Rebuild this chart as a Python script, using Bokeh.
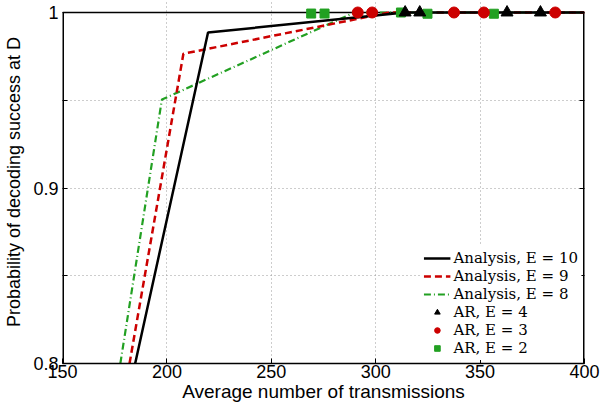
from bokeh.plotting import figure
from bokeh.models import Legend, LegendItem, FixedTicker, LinearAxis, Range1d
from bokeh.embed import file_html
from bokeh.resources import INLINE

# ---- data ----
x_ticks = [150, 200, 250, 300, 350, 400]
y_ticks = [0.8, 0.9, 1.0]
y_minor_ticks = [0.85, 0.95]
y_tick_labels = {0.8: "0.8", 0.9: "0.9", 1.0: "1"}

ana_e10_x = [184.8, 219.7, 314.0, 400.0]
ana_e10_y = [0.8, 0.9886, 1.0, 1.0]
ana_e9_x = [182.1, 207.9, 306.5, 400.0]
ana_e9_y = [0.8, 0.9765, 1.0, 1.0]
ana_e8_x = [177.7, 197.6, 289.8, 400.0]
ana_e8_y = [0.8, 0.9504, 1.0, 1.0]

ar_e4_x = [314.1, 321.1, 362.9, 378.9]
ar_e4_y = [1.0, 1.0, 1.0, 1.0]
ar_e3_x = [291.4, 298.3, 337.5, 351.8, 386.0]
ar_e3_y = [1.0, 1.0, 1.0, 1.0, 1.0]
ar_e2_x = [269.1, 275.5, 312.1, 324.8, 356.6]
ar_e2_y = [0.9994, 0.9994, 1.0, 0.9993, 0.9993]

labels = ["Analysis, E = 10", "Analysis, E = 9", "Analysis, E = 8",
          "AR, E = 4", "AR, E = 3", "AR, E = 2"]

X_MIN, X_MAX = 150, 400
Y_MIN, Y_MAX = 0.8, 1.0

RED = "#cc0000"
GREEN = "#22a022"

p = figure(width=603, height=406,
           x_range=Range1d(X_MIN, X_MAX), y_range=Range1d(Y_MIN, 1.00684),
           output_backend="svg", toolbar_location=None,
           min_border_left=62, min_border_right=19,
           min_border_top=0, min_border_bottom=43)
p.outline_line_color = None
p.background_fill_color = "white"
p.border_fill_color = "white"

# axes
p.xaxis.ticker = FixedTicker(ticks=x_ticks)
p.yaxis.ticker = FixedTicker(ticks=y_ticks, minor_ticks=y_minor_ticks)
p.yaxis.major_label_overrides = y_tick_labels
for ax in (p.xaxis[0], p.yaxis[0]):
    ax.major_tick_in = 5
    ax.major_tick_out = 0
    ax.minor_tick_in = 0
    ax.minor_tick_out = 0
    ax.major_tick_line_color = "black"
    ax.major_label_text_font = "Liberation Sans"
    ax.major_label_text_font_size = "18px"
    ax.major_label_text_color = "black"
    ax.axis_label_text_font = "Liberation Sans"
    ax.axis_label_text_font_style = "normal"
    ax.axis_label_text_color = "black"
p.yaxis.minor_tick_in = 5
p.yaxis.minor_tick_line_color = "black"
p.xaxis.axis_label_text_font_size = "19px"
p.yaxis.axis_label_text_font_size = "18px"
p.xaxis.major_label_standoff = 1
p.xaxis.axis_label_standoff = 0
p.yaxis.major_label_standoff = 4
p.yaxis.axis_label_standoff = 6
p.xaxis.axis_line_width = 1.5
p.xaxis.axis_line_color = "black"
p.yaxis.axis_line_color = None
p.xaxis.axis_label = "Average number of transmissions"
p.yaxis.axis_label = "Probability of decoding success at D"

ra = LinearAxis(ticker=FixedTicker(ticks=[], minor_ticks=y_ticks + y_minor_ticks),
                axis_line_color=None,
                major_tick_in=0, major_tick_out=0, minor_tick_in=5, minor_tick_out=0,
                minor_tick_line_color="black", major_label_standoff=0)
p.add_layout(ra, "right")

# grid
p.xgrid.ticker = FixedTicker(ticks=x_ticks)
p.ygrid.ticker = FixedTicker(ticks=sorted(y_ticks + y_minor_ticks))
for g in (p.xgrid[0], p.ygrid[0]):
    g.grid_line_color = "#9a9a9a"
    g.grid_line_dash = "1 3"
    g.grid_line_width = 1

# frame box
p.segment(x0=[X_MIN], y0=[Y_MAX], x1=[X_MAX], y1=[Y_MAX], line_color="black", line_width=1.5)
p.segment(x0=[X_MIN, X_MAX], y0=[Y_MIN, Y_MIN], x1=[X_MIN, X_MAX], y1=[Y_MAX, Y_MAX],
          line_color="black", line_width=3)

# series
r8 = p.line(ana_e8_x, ana_e8_y, line_color=GREEN, line_width=2.2, line_dash="7 3 1 3")
r9 = p.line(ana_e9_x, ana_e9_y, line_color=RED, line_width=2.5, line_dash="7 4")
r10 = p.line(ana_e10_x, ana_e10_y, line_color="black", line_width=2.5)

s2 = p.scatter(ar_e2_x, ar_e2_y, marker="square", size=9, fill_color=GREEN, line_color=GREEN)
s3 = p.scatter(ar_e3_x, ar_e3_y, marker="circle", size=11, fill_color=RED, line_color=RED)
s4 = p.scatter(ar_e4_x, ar_e4_y, marker="triangle", size=12, fill_color="black", line_color="black")

legend = Legend(items=[LegendItem(label=labels[0], renderers=[r10]),
                       LegendItem(label=labels[1], renderers=[r9]),
                       LegendItem(label=labels[2], renderers=[r8]),
                       LegendItem(label=labels[3], renderers=[s4]),
                       LegendItem(label=labels[4], renderers=[s3]),
                       LegendItem(label=labels[5], renderers=[s2])],
                location="bottom_right")
legend.margin = 3
legend.padding = 3
legend.spacing = 0
legend.glyph_width = 27
legend.glyph_height = 14
legend.label_height = 14
legend.label_standoff = 3
legend.label_text_font = "DejaVu Serif"
legend.label_text_font_size = "15px"
legend.label_text_color = "black"
legend.background_fill_color = "white"
legend.background_fill_alpha = 1.0
legend.border_line_alpha = 0
p.add_layout(legend)

open("out.html", "w").write(file_html(p, INLINE))
